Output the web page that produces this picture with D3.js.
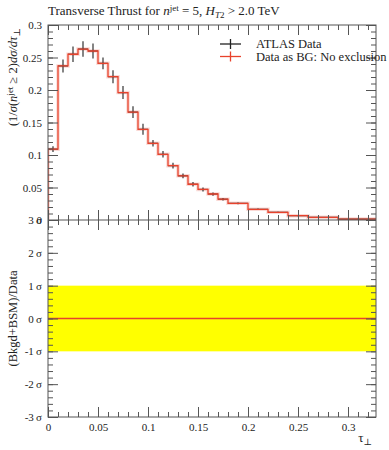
<!DOCTYPE html>
<html lang="en">
<head>
<meta charset="UTF-8">
<title>Transverse Thrust</title>
<script src="https://d3js.org/d3.v7.min.js"></script>
<style>
  body { margin: 0; background: #fff; }
  text { font-family: "Liberation Serif", "DejaVu Serif", serif; fill: #222; }
  .axis path, .axis line { stroke: #555; }
</style>
</head>
<body>
<div id="chart"></div>
<script>

// bin edges along tau_perp
var binEdges = [0, 0.01, 0.02, 0.03, 0.04, 0.05, 0.06, 0.07, 0.08, 0.09, 0.10, 0.11, 0.12,
                0.13, 0.14, 0.15, 0.16, 0.17, 0.18, 0.20, 0.22, 0.24, 0.26, 0.29, 0.33];
// ATLAS data (and Data as BG, identical)
var dataValues = [0.109, 0.237, 0.255, 0.263, 0.260, 0.241, 0.2205, 0.196, 0.166, 0.1395, 0.118, 0.101,
                  0.0836, 0.068, 0.055, 0.047, 0.040, 0.032, 0.0256, 0.0164, 0.0118, 0.0067, 0.0041, 0.0015];
var dataErrors = [0.0043, 0.010, 0.012, 0.012, 0.0115, 0.009, 0.010, 0.010, 0.009, 0.0085, 0.005, 0.005,
                  0.0045, 0.0037, 0.0035, 0.003, 0.0025, 0.002, 0.0015, 0.0012, 0.001, 0.0008, 0.0006, 0.0004];
var xTicks = [0, 0.05, 0.1, 0.15, 0.2, 0.25, 0.3];
var yTicks = [0, 0.05, 0.1, 0.15, 0.2, 0.25, 0.3];
var sigmaTicks = [-3, -2, -1, 0, 1, 2, 3];

var W = 389, H = 450;
var left = 48, right = 376, top1 = 25, mid = 220, bottom = 417;

var svg = d3.select("#chart").append("svg")
    .attr("width", W).attr("height", H);

var x = d3.scaleLinear().domain([0, 0.328]).range([left, right]);
var y = d3.scaleLinear().domain([0, 0.3]).range([mid, top1]);
var ys = d3.scaleLinear().domain([-3, 3]).range([bottom, mid]);

var red = "#e8422c";

svg.append("clipPath").attr("id", "clipMain")
  .append("rect").attr("x", left).attr("y", top1)
  .attr("width", right - left).attr("height", mid - top1);

var bins = dataValues.map(function(v, i) {
  return {lo: binEdges[i], hi: binEdges[i + 1], v: v, e: dataErrors[i]};
});

// ---- ratio panel band + line
svg.append("rect")
  .attr("x", left).attr("width", right - left)
  .attr("y", ys(1)).attr("height", ys(-1) - ys(1))
  .style("fill", "#ffff00");
svg.append("line")
  .attr("x1", left).attr("x2", right)
  .attr("y1", ys(0)).attr("y2", ys(0))
  .style("stroke", red).style("stroke-width", 1.3);

// ---- main panel: step line
var stepPts = [];
bins.forEach(function(b, i) {
  if (i === 0) stepPts.push([x(b.lo), y(0)]);
  stepPts.push([x(b.lo), y(b.v)]);
  stepPts.push([x(b.hi), y(b.v)]);
});
var line = d3.line();
var g = svg.append("g").attr("clip-path", "url(#clipMain)");
g.append("path").attr("d", line(stepPts))
  .style("fill", "none").style("stroke", red).style("stroke-opacity", 0.2).style("stroke-width", 3.5);

// data error bars
g.selectAll(".err").data(bins).enter().append("line")
  .attr("x1", function(d) { return x((d.lo + d.hi) / 2); })
  .attr("x2", function(d) { return x((d.lo + d.hi) / 2); })
  .attr("y1", function(d) { return y(d.v - d.e); })
  .attr("y2", function(d) { return y(d.v + d.e); })
  .style("stroke", "#333").style("stroke-width", 1.2);
g.selectAll(".xerr").data(bins).enter().append("line")
  .attr("x1", function(d) { return x(d.lo); })
  .attr("x2", function(d) { return x(d.hi); })
  .attr("y1", function(d) { return y(d.v); })
  .attr("y2", function(d) { return y(d.v); })
  .style("stroke", "#333").style("stroke-width", 1.2);

g.append("path").attr("d", line(stepPts))
  .style("fill", "none").style("stroke", red).style("stroke-width", 1.3);

// ---- axes
function minorTicks(lo, hi, step) {
  var t = [];
  for (var v = lo; v <= hi + 1e-9; v += step) t.push(+v.toFixed(4));
  return t;
}
var xMinor = minorTicks(0, 0.32, 0.01);
var yMinor = minorTicks(0, 0.3, 0.01);
var sMinor = minorTicks(-3, 3, 0.2);

function addAxis(axis, tx, ty, cls) {
  var a = svg.append("g").attr("class", "axis " + (cls || ""))
    .attr("transform", "translate(" + tx + "," + ty + ")").call(axis);
  a.select(".domain").remove();
  return a;
}
var noLabel = function() { return ""; };

// x ticks on every horizontal frame edge
[[top1, d3.axisTop], [mid, d3.axisBottom], [mid, d3.axisTop], [bottom, d3.axisBottom]].forEach(function(p) {
  addAxis(p[1](x).tickValues(xMinor).tickSize(-5).tickFormat(noLabel), 0, p[0]);
  addAxis(p[1](x).tickValues(xTicks).tickSize(-10).tickFormat(noLabel), 0, p[0]);
});
// x tick labels
addAxis(d3.axisBottom(x).tickValues(xTicks).tickSize(0).tickPadding(6)
  .tickFormat(function(d) { return d === 0 ? "0" : d3.format("")(d); }), 0, bottom, "lab")
  .selectAll("text").style("font-size", "11px");

// main y
addAxis(d3.axisLeft(y).tickValues(yMinor).tickSize(-5).tickFormat(noLabel), left, 0);
addAxis(d3.axisLeft(y).tickValues(yTicks).tickSize(-10).tickPadding(6)
  .tickFormat(function(d) { return d === 0 ? "0" : d3.format("")(d); }), left, 0)
  .selectAll("text").style("font-size", "11px");
addAxis(d3.axisRight(y).tickValues(yMinor).tickSize(-5).tickFormat(noLabel), right, 0);
addAxis(d3.axisRight(y).tickValues(yTicks).tickSize(-10).tickFormat(noLabel), right, 0);

// ratio y
addAxis(d3.axisLeft(ys).tickValues(sMinor).tickSize(-5).tickFormat(noLabel), left, 0);
addAxis(d3.axisLeft(ys).tickValues(sigmaTicks).tickSize(-10).tickPadding(6)
  .tickFormat(function(d) { return (d < 0 ? "-" : "") + Math.abs(d) + "\u2009\u03c3"; }), left, 0)
  .selectAll("text").style("font-size", "11px").style("font-style", "normal");
addAxis(d3.axisRight(ys).tickValues(sMinor).tickSize(-5).tickFormat(noLabel), right, 0);
addAxis(d3.axisRight(ys).tickValues(sigmaTicks).tickSize(-10).tickFormat(noLabel), right, 0);

// frames
svg.append("rect").attr("x", left).attr("y", top1).attr("width", right - left).attr("height", bottom - top1)
  .style("fill", "none").style("stroke", "#555");
svg.append("line").attr("x1", left).attr("x2", right).attr("y1", mid).attr("y2", mid)
  .style("stroke", "#555");

// ---- title
var title = svg.append("text").attr("x", left).attr("y", 15).style("font-size", "13px");
title.append("tspan").text("Transverse Thrust for ");
title.append("tspan").style("font-style", "italic").text("n");
title.append("tspan").attr("dy", -4).style("font-size", "9px").text("jet");
title.append("tspan").attr("dy", 4).text(" = 5, ");
title.append("tspan").style("font-style", "italic").text("H");
title.append("tspan").attr("dy", 3).style("font-size", "9px").style("font-style", "italic").text("T");
title.append("tspan").style("font-size", "9px").text("2");
title.append("tspan").attr("dy", -3).text(" > 2.0 TeV");

// ---- y labels
var yl = svg.append("text")
  .attr("transform", "translate(17," + 28 + ") rotate(-90)")
  .style("text-anchor", "end").style("font-size", "12.5px");
yl.append("tspan").text("(1/");
yl.append("tspan").style("font-style", "italic").text("\u03c3");
yl.append("tspan").text("(");
yl.append("tspan").style("font-style", "italic").text("n");
yl.append("tspan").attr("dy", -4).style("font-size", "9px").text("jet");
yl.append("tspan").attr("dy", 4).text(" \u2265 2)");
yl.append("tspan").style("font-style", "italic").text("d\u03c3/d\u03c4");
yl.append("tspan").attr("dy", 3).style("font-size", "9px").text("\u22a5");

svg.append("text")
  .attr("transform", "translate(17," + ((mid + bottom) / 2) + ") rotate(-90)")
  .style("text-anchor", "middle").style("font-size", "12.5px")
  .text("(Bkgd+BSM)/Data");

// x label
var xl = svg.append("text").attr("x", right - 4).attr("y", 442)
  .style("text-anchor", "end").style("font-size", "13px");
xl.append("tspan").text("\u03c4");
xl.append("tspan").attr("dy", 3).style("font-size", "9px").text("\u22a5");

// ---- legend
var legend = [{label: "ATLAS Data", color: "#222"}, {label: "Data as BG: No exclusion", color: red}];
legend.forEach(function(l, i) {
  var ly = 44 + i * 12.5;
  svg.append("line").attr("x1", 220).attr("x2", 241).attr("y1", ly).attr("y2", ly)
    .style("stroke", l.color).style("stroke-width", 1.3);
  svg.append("line").attr("x1", 230.5).attr("x2", 230.5).attr("y1", ly - 5).attr("y2", ly + 5)
    .style("stroke", l.color).style("stroke-width", 1.3);
  svg.append("text").attr("x", 256).attr("y", ly + 4)
    .style("font-size", "12.5px").text(l.label);
});

</script>
</body>
</html>
